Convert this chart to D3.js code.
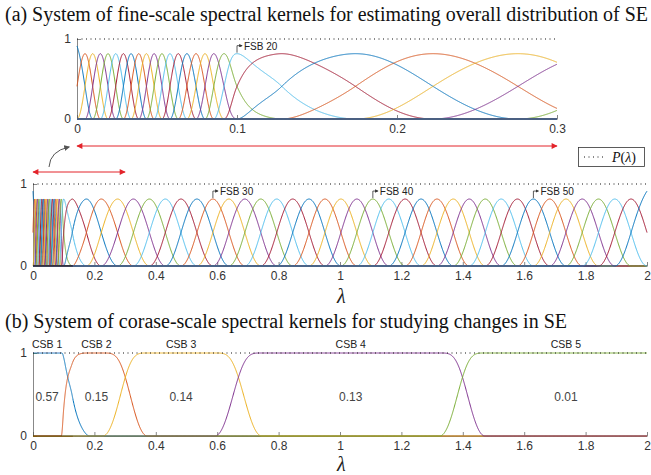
<!DOCTYPE html>
<html>
<head>
<meta charset="utf-8">
<script src="https://cdn.jsdelivr.net/npm/d3@7"></script>
<style>
  body { margin: 0; background: #fff; }
  text { font-family: "Liberation Sans", Arial, sans-serif; }
  .serif { font-family: "Liberation Serif", "Times New Roman", serif; }
  .axis text { font-size: 12px; fill: #333; font-family: "Liberation Sans", Arial, sans-serif; }
  .axis path, .axis line { stroke: #555; stroke-width: 0.7; }
</style>
</head>
<body>
<svg id="chart" width="651" height="475"></svg>
<script>
// MATLAB default line colours, cycled over the kernels
var colors = ["#0072BD", "#D95319", "#EDB120", "#7E2F8E", "#77AC30", "#4DBEEE", "#A2142F"];

// peak position (lambda) of fine-scale kernels FSB 1 .. FSB 57
var fsbCenters = [
  0.0000, 0.0050, 0.0098, 0.0146, 0.0194, 0.0242, 0.0290, 0.0338, 0.0386, 0.0434,
  0.0482, 0.0531, 0.0581, 0.0633, 0.0687, 0.0744, 0.0800, 0.0855, 0.0919, 0.1000,
  0.128, 0.174, 0.2225, 0.2756, 0.327, 0.379, 0.431, 0.482, 0.534, 0.586,
  0.638, 0.690, 0.742, 0.794, 0.846, 0.899, 0.951, 1.003, 1.055, 1.107,
  1.159, 1.212, 1.264, 1.316, 1.369, 1.421, 1.473, 1.525, 1.578, 1.630,
  1.683, 1.736, 1.789, 1.842, 1.895, 1.948, 2.000
];
var topLabels = [20];
var midLabels = [30, 40, 50];

// coarse-scale kernels: lambda where each hand-over starts and ends
var csbEdges = [[0.092, 0.185], [0.228, 0.372], [0.593, 0.745], [1.325, 1.472]];
var csbNames = ["CSB 1", "CSB 2", "CSB 3", "CSB 4", "CSB 5"];
var csbShare = ["0.57", "0.15", "0.14", "0.13", "0.01"];

var topTicks = [0, 0.1, 0.2, 0.3];
var fullTicks = [0, 0.2, 0.4, 0.6, 0.8, 1, 1.2, 1.4, 1.6, 1.8, 2];

// monotone warp lambda -> kernel index (Steffen, same idea as d3.curveMonotoneX)
function makeWarp(xs, ys) {
  var n = xs.length, s = [], m = [];
  for (var i = 0; i < n - 1; i++) s[i] = (ys[i + 1] - ys[i]) / (xs[i + 1] - xs[i]);
  m[0] = s[0]; m[n - 1] = s[n - 2];
  for (i = 1; i < n - 1; i++) {
    var h0 = xs[i] - xs[i - 1], h1 = xs[i + 1] - xs[i];
    var p = (s[i - 1] * h1 + s[i] * h0) / (h0 + h1);
    m[i] = 2 * Math.min(s[i - 1], s[i], 0.5 * p);
  }
  return function (x) {
    if (x <= xs[0]) return ys[0] + m[0] * (x - xs[0]);
    if (x >= xs[n - 1]) return ys[n - 1] + m[n - 1] * (x - xs[n - 1]);
    var i = d3.bisectRight(xs, x) - 1;
    var h = xs[i + 1] - xs[i], t = (x - xs[i]) / h;
    var t2 = t * t, t3 = t2 * t;
    return (2 * t3 - 3 * t2 + 1) * ys[i] + (t3 - 2 * t2 + t) * h * m[i] +
           (-2 * t3 + 3 * t2) * ys[i + 1] + (t3 - t2) * h * m[i + 1];
  };
}
var warp = makeWarp(fsbCenters, fsbCenters.map(function (d, i) { return i + 1; }));
var nF = fsbCenters.length;

var amp = Math.sqrt(2 / 3);
function bump(u) {
  if (Math.abs(u) >= 2) return 0;
  var c = Math.cos(Math.PI * u / 4);
  return amp * c * c;
}
function fsb(k, lam) {
  var w = warp(lam);
  if (k === 1) return Math.hypot(bump(w - 1), bump(w));           // boundary kernels absorb the missing neighbour
  if (k === nF) return Math.hypot(bump(w - nF), bump(w - nF - 1));
  return bump(w - k);
}

function edgeT(e, w) {
  var a = warp(e[0]), b = warp(e[1]);
  return Math.max(0, Math.min(1, (w - a) / (b - a)));
}
function rise(t) { var s = Math.sin(Math.PI * t / 2); return Math.sin(Math.PI / 2 * s * s); }
function fall(t) { var s = Math.sin(Math.PI * t / 2); return Math.cos(Math.PI / 2 * s * s); }
function csb(j, lam) {
  var w = warp(lam), v = 1;
  if (j > 0) v *= rise(edgeT(csbEdges[j - 1], w));
  if (j < csbEdges.length) v *= fall(edgeT(csbEdges[j], w));
  return v;
}

var svg = d3.select("#chart");
var defs = svg.append("defs");
defs.append("marker").attr("id", "redHead").attr("viewBox", "0 0 10 10")
  .attr("refX", 9).attr("refY", 5).attr("markerWidth", 7).attr("markerHeight", 6)
  .attr("markerUnits", "userSpaceOnUse").attr("orient", "auto-start-reverse")
  .append("path").attr("d", "M0,0 L10,5 L0,10 z").attr("fill", "#e3242b");
defs.append("marker").attr("id", "grayHead").attr("viewBox", "0 0 10 10")
  .attr("refX", 8).attr("refY", 5).attr("markerWidth", 6).attr("markerHeight", 6)
  .attr("markerUnits", "userSpaceOnUse").attr("orient", "auto")
  .append("path").attr("d", "M0,0 L10,5 L0,10 z").attr("fill", "#555");
defs.append("marker").attr("id", "tinyHead").attr("viewBox", "0 0 10 10")
  .attr("refX", 8).attr("refY", 5).attr("markerWidth", 3.5).attr("markerHeight", 3.5)
  .attr("markerUnits", "userSpaceOnUse").attr("orient", "auto")
  .append("path").attr("d", "M0,0 L10,5 L0,10 z").attr("fill", "#333");

// titles
svg.append("text").attr("class", "serif").attr("x", 5).attr("y", 21)
  .attr("textLength", 643).attr("lengthAdjust", "spacingAndGlyphs")
  .style("font-size", "20px").attr("fill", "#111")
  .text("(a) System of fine-scale spectral kernels for estimating overall distribution of SE");
svg.append("text").attr("class", "serif").attr("x", 5).attr("y", 328)
  .attr("textLength", 562).attr("lengthAdjust", "spacingAndGlyphs")
  .style("font-size", "20px").attr("fill", "#111")
  .text("(b) System of corase-scale spectral kernels for studying changes in SE");

function axes(x, y, ticks) {
  svg.append("g").attr("class", "axis")
    .attr("transform", "translate(0," + y(0) + ")")
    .call(d3.axisBottom(x).tickValues(ticks).tickFormat(d3.format("~g"))
      .tickSizeInner(-4).tickSizeOuter(0).tickPadding(5));
  svg.append("g").attr("class", "axis")
    .attr("transform", "translate(" + x.range()[0] + ",0)")
    .call(d3.axisLeft(y).tickValues([0, 1]).tickFormat(d3.format("~g"))
      .tickSizeInner(-4).tickSizeOuter(0).tickPadding(6));
}

function curves(x, y, lams, fn, count) {
  var line = d3.line().x(function (d) { return x(d[0]); }).y(function (d) { return y(d[1]); });
  for (var k = 1; k <= count; k++) {
    var pts = lams.map(function (l) { return [l, fn(k, l)]; });
    svg.append("path").attr("d", line(pts)).attr("fill", "none")
      .attr("stroke", colors[(k - 1) % 7]).attr("stroke-width", 1);
  }
}

function dotted(x, y) {
  svg.append("line").attr("x1", x.range()[0]).attr("x2", x.range()[1])
    .attr("y1", y(1)).attr("y2", y(1)).attr("stroke", "#111")
    .attr("stroke-width", 1).attr("stroke-dasharray", "1,3.5");
}

function fsbTags(x, y, list) {
  list.forEach(function (k) {
    var px = x(fsbCenters[k - 1]), py = y(amp);
    svg.append("path").attr("d", "M" + px + "," + (py - 1) + "V" + (py - 8) + "H" + (px + 5))
      .attr("fill", "none").attr("stroke", "#333").attr("stroke-width", 0.8)
      .attr("marker-end", "url(#tinyHead)");
    svg.append("text").attr("x", px + 7).attr("y", py - 4)
      .style("font-size", "10px").attr("fill", "#222").text("FSB " + k);
  });
}

// (a) top: zoom on 0..0.3
var xTop = d3.scaleLinear().domain([0, 0.3]).range([77, 557]);
var yTop = d3.scaleLinear().domain([0, 1]).range([119, 39]);
axes(xTop, yTop, topTicks);
curves(xTop, yTop, d3.range(0, 0.3, 0.0001).concat([0.3]), fsb, nF);
dotted(xTop, yTop);
fsbTags(xTop, yTop, topLabels);

// (a) middle: whole spectrum
var xMid = d3.scaleLinear().domain([0, 2]).range([33, 647]);
var yMid = d3.scaleLinear().domain([0, 1]).range([266, 184]);
var fullLams = d3.range(0, 0.13, 0.0001).concat(d3.range(0.13, 2, 0.001)).concat([2]);
axes(xMid, yMid, fullTicks);
curves(xMid, yMid, fullLams, fsb, nF);
dotted(xMid, yMid);
fsbTags(xMid, yMid, midLabels);
svg.append("text").attr("class", "serif").attr("x", 337).attr("y", 303)
  .style("font-size", "20px").style("font-style", "italic").attr("fill", "#222").text("λ");

// zoom arrows and legend
svg.append("line").attr("x1", xTop(0)).attr("x2", xTop(0.3)).attr("y1", 146).attr("y2", 146)
  .attr("stroke", "#e3242b").attr("stroke-width", 1)
  .attr("marker-start", "url(#redHead)").attr("marker-end", "url(#redHead)");
svg.append("line").attr("x1", xMid(0)).attr("x2", xMid(0.3)).attr("y1", 172).attr("y2", 172)
  .attr("stroke", "#e3242b").attr("stroke-width", 1)
  .attr("marker-start", "url(#redHead)").attr("marker-end", "url(#redHead)");
svg.append("path").attr("d", "M49,167 Q50,151 69,147").attr("fill", "none")
  .attr("stroke", "#555").attr("stroke-width", 1).attr("marker-end", "url(#grayHead)");

var lg = svg.append("g");
lg.append("rect").attr("x", 578.5).attr("y", 147.5).attr("width", 66).attr("height", 19)
  .attr("fill", "#fff").attr("stroke", "#333").attr("stroke-width", 0.8);
lg.append("line").attr("x1", 584).attr("x2", 606).attr("y1", 157).attr("y2", 157)
  .attr("stroke", "#111").attr("stroke-dasharray", "1,3.5");
lg.append("text").attr("class", "serif").attr("x", 612).attr("y", 162)
  .style("font-size", "14px").attr("fill", "#111")
  .html('<tspan font-style="italic">P</tspan>(<tspan font-style="italic">λ</tspan>)');

// (b) coarse kernels
var xBot = d3.scaleLinear().domain([0, 2]).range([33, 647]);
var yBot = d3.scaleLinear().domain([0, 1]).range([436, 353]);
axes(xBot, yBot, fullTicks);
curves(xBot, yBot, fullLams, function (k, l) { return csb(k - 1, l); }, csbNames.length);
dotted(xBot, yBot);
var flatMid = csbNames.map(function (n, j) {
  var a = j === 0 ? 0 : csbEdges[j - 1][1];
  var b = j === csbEdges.length ? 2 : csbEdges[j][0];
  return (a + b) / 2;
});
csbNames.forEach(function (n, j) {
  svg.append("text").attr("x", xBot(flatMid[j])).attr("y", 348).attr("text-anchor", "middle")
    .style("font-size", "10.5px").attr("fill", "#222").text(n);
  svg.append("text").attr("x", xBot(flatMid[j])).attr("y", 401).attr("text-anchor", "middle")
    .style("font-size", "12px").attr("fill", "#444").text(csbShare[j]);
});
svg.append("text").attr("class", "serif").attr("x", 337).attr("y", 471)
  .style("font-size", "20px").style("font-style", "italic").attr("fill", "#222").text("λ");
</script>
</body>
</html>
